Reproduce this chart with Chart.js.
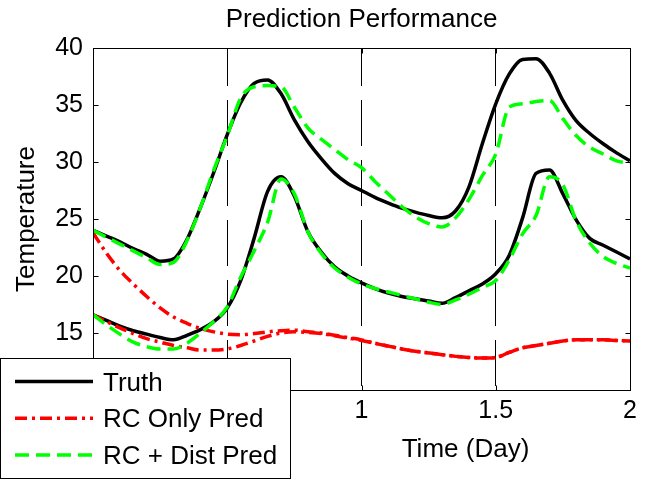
<!DOCTYPE html>
<html>
<head>
<meta charset="utf-8">
<title>Prediction Performance</title>
<script src="https://cdn.jsdelivr.net/npm/chart.js@4.4.0/dist/chart.umd.min.js"></script>
<style>
  html, body { margin: 0; padding: 0; background: #ffffff; }
  canvas { display: block; }
</style>
</head>
<body>
<canvas id="perf-chart" width="651" height="481"></canvas>
<script>
// time axis (days) shared by every series
const timeDays = [
  0, 0.05, 0.1, 0.15, 0.2, 0.25, 0.3, 0.35, 0.4, 0.45,
  0.5, 0.55, 0.6, 0.65, 0.7, 0.75, 0.8, 0.85, 0.9, 0.95,
  1, 1.05, 1.1, 1.15, 1.2, 1.25, 1.3, 1.35, 1.4, 1.45,
  1.5, 1.55, 1.6, 1.65, 1.7, 1.75, 1.8, 1.85, 1.9, 1.95, 2
];

// zone 1 (warmer)
const truthUpper = [
  24.0, 23.5, 23.0, 22.4, 21.9, 21.3, 21.5, 23.2, 26.0, 29.1,
  32.4, 35.2, 36.9, 37.2, 36.0, 33.7, 31.8, 30.3, 29.0, 28.1,
  27.5, 26.9, 26.4, 25.95, 25.6, 25.3, 25.1, 25.7, 27.8, 31.6,
  35.1, 37.7, 39.0, 39.05, 37.8, 35.4, 33.6, 32.5, 31.6, 30.8, 30.1
];
const rcUpper = [
  23.8, 22.0, 20.5, 19.3, 18.2, 17.2, 16.4, 15.85, 15.4, 15.1,
  14.9, 14.85, 14.95, 15.1, 15.2, 15.25, 15.1, 15.0, 14.8, 14.6,
  14.4, 14.1, 13.85, 13.6, 13.4, 13.25, 13.1, 12.95, 12.85, 12.8,
  12.85, 13.3, 13.7, 13.9, 14.1, 14.3, 14.4, 14.4, 14.4, 14.35, 14.3
];
const distUpper = [
  24.0, 23.4, 22.8, 22.2, 21.6, 21.0, 21.2, 23.1, 26.0, 29.3,
  32.3, 35.6, 36.6, 36.7, 36.6, 34.8, 33.0, 32.0, 31.1, 30.2,
  29.5, 28.3, 27.2, 26.1, 25.2, 24.6, 24.3, 25.1, 26.7, 28.8,
  30.7, 34.8, 35.1, 35.3, 35.4, 33.8, 32.3, 31.3, 30.7, 30.1, 29.9
];

// zone 2 (cooler)
const truthLower = [
  16.6, 16.1, 15.6, 15.2, 14.9, 14.6, 14.4, 14.8, 15.3, 16.0,
  17.2, 19.6, 23.3, 27.4, 28.7, 27.0, 23.9, 22.1, 20.8, 20.0,
  19.4, 18.9, 18.5, 18.2, 18.0, 17.8, 17.6, 18.1, 18.7, 19.3,
  20.2, 21.8, 25.1, 29.0, 29.3, 27.2, 24.9, 23.3, 22.7, 22.1, 21.5
];
const rcLower = [
  16.6, 16.0, 15.45, 14.95, 14.5, 14.2, 13.9, 13.7, 13.5, 13.5,
  13.6, 13.9, 14.3, 14.7, 15.0, 15.1, 15.05, 14.95, 14.75, 14.55,
  14.35, 14.1, 13.85, 13.6, 13.4, 13.25, 13.1, 12.95, 12.85, 12.8,
  12.85, 13.3, 13.7, 13.9, 14.1, 14.3, 14.4, 14.4, 14.4, 14.35, 14.3
];
const distLower = [
  16.6, 15.7, 14.9, 14.2, 13.8, 13.6, 13.6, 14.1, 15.0, 16.0,
  17.3, 19.9, 22.2, 24.7, 28.5, 27.2, 23.9, 22.0, 20.7, 19.9,
  19.3, 18.9, 18.6, 18.3, 18.0, 17.7, 17.5, 17.9, 18.4, 19.0,
  19.6, 21.4, 23.7, 25.3, 28.7, 28.0, 24.8, 22.9, 21.7, 21.1, 20.7
];

const dayTicks = [0, 0.5, 1, 1.5, 2];
const tempTicks = [10, 15, 20, 25, 30, 35, 40];

const FONT = '"Liberation Sans", Arial, Helvetica, sans-serif';
const TEXT_SIZE = 26;
const TICK_SIZE = 25;
const LINE_W = 3.5;
const BLACK = '#000000';
const RED = '#ff0000';
const GREEN = '#00ff00';
const RED_DASH = [12, 5, 3, 5];
const GREEN_DASH = [14, 7];

const legendRows = [
  { text: 'Truth', color: BLACK, dash: [] },
  { text: 'RC Only Pred', color: RED, dash: RED_DASH },
  { text: 'RC + Dist Pred', color: GREEN, dash: GREEN_DASH }
];

const toPoints = (values) => timeDays.map((t, i) => ({ x: t, y: values[i] }));

function series(label, values, color, dash) {
  return {
    label,
    data: toPoints(values),
    borderColor: color,
    borderWidth: LINE_W,
    borderDash: dash,
    borderCapStyle: 'butt',
    borderJoinStyle: 'round',
    pointRadius: 0,
    fill: false,
    cubicInterpolationMode: 'monotone'
  };
}

// box, inward ticks, title, legend and x label in the old plotting-tool look
const axesDecor = {
  id: 'axesDecor',
  afterDraw(chart) {
    const { ctx, chartArea: a, scales: { x, y } } = chart;
    const left = Math.round(a.left) + 0.5;
    const right = Math.round(a.right) + 0.5;
    const top = Math.round(a.top) + 0.5;
    const bottom = Math.round(a.bottom) + 0.5;

    ctx.save();
    ctx.strokeStyle = BLACK;
    ctx.lineWidth = 1;
    ctx.setLineDash([]);
    ctx.strokeRect(left, top, right - left, bottom - top);

    ctx.beginPath();
    tempTicks.forEach(v => {
      const py = Math.round(y.getPixelForValue(v)) + 0.5;
      ctx.moveTo(left, py); ctx.lineTo(left + 5, py);
      ctx.moveTo(right, py); ctx.lineTo(right - 5, py);
    });
    dayTicks.forEach(v => {
      const px = Math.round(x.getPixelForValue(v)) + 0.5;
      ctx.moveTo(px, bottom); ctx.lineTo(px, bottom - 5);
      ctx.moveTo(px, top); ctx.lineTo(px, top + 5);
    });
    ctx.stroke();

    ctx.fillStyle = BLACK;
    ctx.font = `${TEXT_SIZE}px ${FONT}`;
    ctx.textAlign = 'center';
    ctx.textBaseline = 'alphabetic';
    // title centred over the plot box
    ctx.fillText('Prediction Performance', (a.left + a.right) / 2, 27);
    // x axis label sits right of centre, clear of the legend
    ctx.fillText('Time (Day)', 465.5, 457);

    // legend box at lower left
    ctx.fillStyle = '#ffffff';
    ctx.fillRect(0, 358, 291, 121);
    ctx.strokeRect(0.5, 358.5, 290, 120);

    legendRows.forEach((row, i) => {
      const ly = 381.5 + i * 36.7;
      ctx.beginPath();
      ctx.strokeStyle = row.color;
      ctx.lineWidth = LINE_W;
      ctx.lineCap = 'butt';
      ctx.setLineDash(row.dash);
      ctx.moveTo(15, ly);
      ctx.lineTo(93, ly);
      ctx.stroke();
      ctx.setLineDash([]);
      ctx.fillStyle = BLACK;
      ctx.textAlign = 'left';
      ctx.fillText(row.text, 103, ly + 9);
    });
    ctx.restore();
  }
};

new Chart(document.getElementById('perf-chart'), {
  type: 'line',
  data: {
    datasets: [
      series('RC + Dist Pred', distUpper, GREEN, GREEN_DASH),
      series('RC + Dist Pred', distLower, GREEN, GREEN_DASH),
      series('RC Only Pred', rcUpper, RED, RED_DASH),
      series('RC Only Pred', rcLower, RED, RED_DASH),
      series('Truth', truthUpper, BLACK, []),
      series('Truth', truthLower, BLACK, [])
    ]
  },
  options: {
    responsive: false,
    animation: false,
    devicePixelRatio: 1,
    layout: {
      padding: { left: 0, right: 21, top: 48, bottom: 0 }
    },
    plugins: {
      legend: { display: false },
      tooltip: { enabled: false },
      title: { display: false }
    },
    scales: {
      x: {
        type: 'linear',
        min: 0,
        max: 2,
        afterBuildTicks: (scale) => { scale.ticks = dayTicks.map(v => ({ value: v })); },
        afterFit: (scale) => { scale.height = 91; },
        ticks: {
          color: BLACK,
          padding: 6,
          maxRotation: 0,
          callback: (value) => String(value),
          font: { family: FONT, size: TICK_SIZE }
        },
        grid: {
          display: true,
          color: BLACK,
          lineWidth: 1,
          drawTicks: false
        },
        border: { display: false, dash: [46, 14], dashOffset: 8 }
      },
      y: {
        min: 10,
        max: 40,
        afterBuildTicks: (scale) => { scale.ticks = tempTicks.map(v => ({ value: v })); },
        afterFit: (scale) => { scale.width = 93; },
        ticks: {
          color: BLACK,
          padding: 10,
          callback: (value) => String(value),
          font: { family: FONT, size: TICK_SIZE }
        },
        grid: { display: false, drawTicks: false },
        border: { display: false },
        title: {
          display: true,
          text: 'Temperature',
          color: BLACK,
          font: { family: FONT, size: TEXT_SIZE },
          padding: { top: 11, bottom: 0 }
        }
      }
    }
  },
  plugins: [axesDecor]
});
</script>
</body>
</html>
